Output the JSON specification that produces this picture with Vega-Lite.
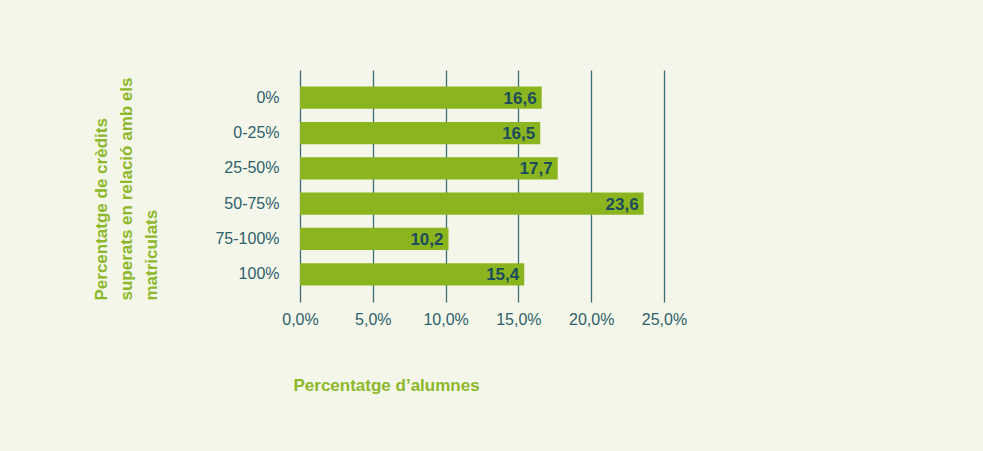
{
  "$schema": "https://vega.github.io/schema/vega-lite/v6.json",
  "autosize": {"type": "none"},
  "width": 364,
  "height": 232,
  "padding": {"left": 300, "top": 70, "right": 319, "bottom": 149},
  "background": "#f3f6e8",
  "data": {
    "values": [
      {"cat": "0%", "value": 16.6},
      {"cat": "0-25%", "value": 16.5},
      {"cat": "25-50%", "value": 17.7},
      {"cat": "50-75%", "value": 23.6},
      {"cat": "75-100%", "value": 10.2},
      {"cat": "100%", "value": 15.4}
    ]
  },
  "transform": [
    {"calculate": "replace(format(datum.value, '.1f'), '.', ',')", "as": "lbl"}
  ],
  "encoding": {
    "y": {
      "field": "cat",
      "type": "nominal",
      "sort": null,
      "scale": {"paddingInner": 0.371, "paddingOuter": 0.47},
      "axis": {
        "domain": false,
        "ticks": false,
        "grid": false,
        "labelPadding": 21,
        "labelFont": "Liberation Sans",
        "labelFontSize": 16,
        "labelColor": "#2f5f6c",
        "title": ["Percentatge de crèdits", "superats en relació amb els", "matriculats"],
        "titleAngle": -90,
        "titleAlign": "left",
        "titleBaseline": "alphabetic",
        "titleX": -194,
        "titleY": 230,
        "titleLineHeight": 25,
        "titleFont": "Liberation Sans",
        "titleFontSize": 17,
        "titleFontWeight": "bold",
        "titleColor": "#8cb82a"
      }
    },
    "x": {
      "field": "value",
      "type": "quantitative",
      "scale": {"domain": [0, 25], "nice": false},
      "axis": {
        "values": [0, 5, 10, 15, 20, 25],
        "domain": false,
        "ticks": false,
        "grid": true,
        "gridColor": "#3f6e78",
        "gridWidth": 1.3,
        "gridOpacity": 1,
        "labelExpr": "replace(format(datum.value, '.1f'), '.', ',') + '%'",
        "labelPadding": 9,
        "labelFlush": false,
        "labelFont": "Liberation Sans",
        "labelFontSize": 16,
        "labelColor": "#2f5f6c",
        "title": "Percentatge d’alumnes",
        "titleAnchor": "start",
        "titleAlign": "left",
        "titleBaseline": "alphabetic",
        "titleX": -7,
        "titleY": 88,
        "titleFont": "Liberation Sans",
        "titleFontSize": 17,
        "titleFontWeight": "bold",
        "titleColor": "#8cb82a"
      }
    }
  },
  "layer": [
    {"mark": {"type": "bar", "color": "#8bb51e", "cornerRadius": 0}},
    {
      "mark": {
        "type": "text",
        "align": "right",
        "baseline": "middle",
        "dx": -5,
        "dy": 1,
        "font": "Liberation Sans",
        "fontSize": 17,
        "fontWeight": "bold",
        "color": "#1b4b5c"
      },
      "encoding": {"text": {"field": "lbl", "type": "nominal"}}
    }
  ],
  "config": {"view": {"stroke": null}}
}
